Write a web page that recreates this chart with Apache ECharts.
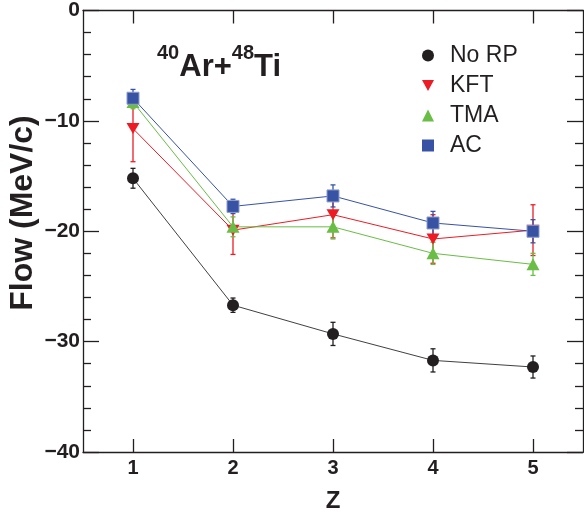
<!DOCTYPE html>
<html>
<head>
<meta charset="utf-8">
<script src="https://cdn.jsdelivr.net/npm/echarts@6/dist/echarts.min.js"></script>
<style>html,body{margin:0;padding:0;background:#fff}#c{width:584px;height:518px}</style>
</head>
<body>
<div id="c"></div>
<script>
const zValues = [1, 2, 3, 4, 5];
const xTicks = [1, 2, 3, 4, 5];
const noRP = [-15.2, -26.7, -29.3, -31.7, -32.3];
const noRPErr = [0.9, 0.65, 1.05, 1.05, 1.0];
const kft = [-10.7, -19.9, -18.5, -20.7, -19.9];
const kftErr = [3.0, 2.2, 2.1, 2.2, 2.3];
const tma = [-8.3, -19.6, -19.6, -22.0, -23.0];
const tmaErr = [0.6, 0.9, 1.1, 1.0, 1.0];
const ac = [-7.95, -17.75, -16.8, -19.25, -20.0];
const acErr = [0.8, 0.65, 1.0, 1.05, 1.05];

const FONT = '"Liberation Sans", Arial, Helvetica, sans-serif';
const INK = '#231f20';
const C_BLACK = '#231f20', C_RED = '#ed1c24', C_GREEN = '#6abd45', C_BLUE = '#3953a4';

function pts(vals){ return zValues.map((z,i)=>[z, vals[i]]); }
function errData(vals, errs){ return zValues.map((z,i)=>[z, vals[i]-errs[i], vals[i]+errs[i]]); }
function errSeries(name, vals, errs, color){
  return {
    type:'custom', name:name, silent:true,
    data: errData(vals, errs),
    encode:{x:0, y:[1,2]},
    renderItem: function(params, api){
      const x = api.value(0);
      const top = api.coord([x, api.value(2)]);
      const bot = api.coord([x, api.value(1)]);
      const w = 2.5;
      const st = {stroke: color, lineWidth: 1.3};
      return {type:'group', children:[
        {type:'line', shape:{x1:top[0], y1:top[1], x2:bot[0], y2:bot[1]}, style:st},
        {type:'line', shape:{x1:top[0]-w, y1:top[1], x2:top[0]+w, y2:top[1]}, style:st},
        {type:'line', shape:{x1:bot[0]-w, y1:bot[1], x2:bot[0]+w, y2:bot[1]}, style:st}
      ]};
    }
  };
}
function lineSeries(name, vals, color, symbol, size, rotate, extra){
  return Object.assign({
    type:'line', name:name, data: pts(vals),
    symbol: symbol, symbolSize: size, symbolRotate: rotate || 0,
    showSymbol:true,
    itemStyle:{color: color},
    lineStyle:{color: color, width: 1}
  }, extra || {});
}

const chart = echarts.init(document.getElementById('c'), null, {renderer:'canvas'});
const axisLineStyle = {color: INK, width: 1.3};
const fmtY = v => v < 0 ? '\u2212' + Math.abs(v) : String(v);

chart.setOption({
  animation:false,
  backgroundColor:'#fff',
  grid:{left:83, right:1, top:10, bottom:63, containLabel:false},
  xAxis:[
    {type:'value', min:0.5, max:5.5, position:'bottom',
     axisLine:{show:true, onZero:false, lineStyle:axisLineStyle},
     axisTick:{show:true, inside:true, length:13, customValues:xTicks, lineStyle:axisLineStyle},
     axisLabel:{show:true, customValues:xTicks, fontSize:20, fontWeight:'bold', color:INK, fontFamily:FONT, margin:6},
     splitLine:{show:false},
     name:'Z', nameLocation:'middle', nameGap:37,
     nameTextStyle:{fontSize:24, fontWeight:'bold', color:INK, fontFamily:FONT}},
    {type:'value', min:0.5, max:5.5, position:'top',
     axisLine:{show:true, onZero:false, lineStyle:axisLineStyle},
     axisTick:{show:true, inside:true, length:13, customValues:xTicks, lineStyle:axisLineStyle},
     axisLabel:{show:false, customValues:xTicks},
     splitLine:{show:false}}
  ],
  yAxis:[
    {type:'value', min:-40, max:0, interval:10, position:'left',
     axisLine:{show:true, onZero:false, lineStyle:axisLineStyle},
     axisTick:{show:true, inside:true, length:16, lineStyle:axisLineStyle},
     minorTick:{show:true, splitNumber:5, length:8, lineStyle:{color:INK, width:1.3}},
     axisLabel:{fontSize:21, fontWeight:'bold', color:INK, fontFamily:FONT, margin:3, formatter:fmtY},
     splitLine:{show:false}},
    {type:'value', min:-40, max:0, interval:10, position:'right',
     axisLine:{show:true, onZero:false, lineStyle:axisLineStyle},
     axisTick:{show:true, inside:true, length:16, lineStyle:axisLineStyle},
     minorTick:{show:true, splitNumber:5, length:8, lineStyle:{color:INK, width:1.3}},
     axisLabel:{show:false},
     splitLine:{show:false}}
  ],
  legend:{
    orient:'vertical', left:417, top:39, itemWidth:12, itemHeight:12, itemGap:7,
    textStyle:{fontSize:23, color:INK, fontFamily:FONT, padding:[0,0,0,11]},
    data:[
      {name:'No RP', icon:'circle', itemStyle:{borderWidth:0}},
      {name:'KFT', icon:'path://M0,0L10,0L5,9Z'},
      {name:'TMA', icon:'triangle'},
      {name:'AC', icon:'rect', itemStyle:{borderWidth:0}}
    ]
  },
  graphic:[
    {type:'text', left:157, top:43, z:100,
     style:{
       text:'{s|40}{b|Ar+}{s|48}{b|Ti}',
       rich:{
         s:{fontSize:20, fontWeight:'bold', fontFamily:FONT, fill:INK, verticalAlign:'top', lineHeight:20},
         b:{fontSize:31, fontWeight:'bold', fontFamily:FONT, fill:INK, verticalAlign:'bottom', lineHeight:40}
       }
     }},
    {type:'text', x:23, y:213, rotation:Math.PI/2, z:100,
     style:{text:'Flow (MeV/c)', fontSize:32, fontWeight:'bold', fontFamily:FONT, fill:INK,
            align:'center', verticalAlign:'middle'}}
  ],
  series:[
    errSeries('errNoRP', noRP, noRPErr, C_BLACK),
    lineSeries('No RP', noRP, C_BLACK, 'circle', 12, 0, {lineStyle:{color:'#404040', width:1}}),
    errSeries('errKFT', kft, kftErr, C_RED),
    lineSeries('KFT', kft, C_RED, 'triangle', [13,11], 180),
    errSeries('errTMA', tma, tmaErr, C_GREEN),
    lineSeries('TMA', tma, C_GREEN, 'triangle', [13,12], 0),
    errSeries('errAC', ac, acErr, C_BLUE),
    lineSeries('AC', ac, C_BLUE, 'rect', 12, 0, {itemStyle:{color:C_BLUE, borderColor:'#8d9dcc', borderWidth:1}})
  ]
});
</script>
</body>
</html>
